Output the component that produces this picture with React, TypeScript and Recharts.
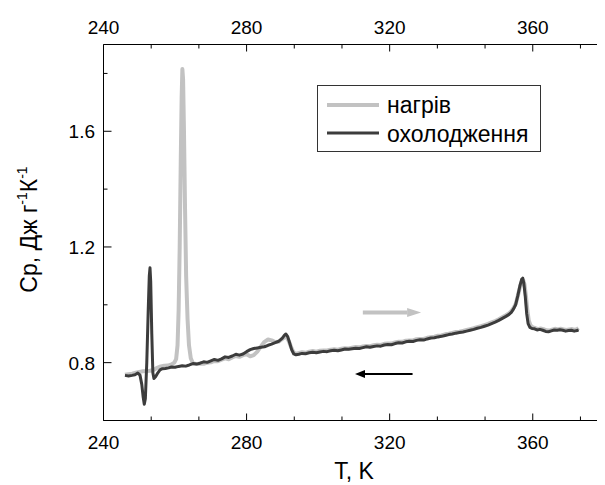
import React from 'react';
import { LineChart, Line, XAxis, YAxis, ReferenceLine, Legend } from 'recharts';

// Heat capacity, heating run (T in K, Cp in J g^-1 K^-1)
const heatingT = [
  246.0, 247.0, 248.0, 249.0, 250.0, 251.0, 252.0, 253.0, 254.0, 255.0, 256.0, 257.0, 258.0, 259.0,
  259.8, 260.3, 260.7, 261.0, 261.3, 261.6, 261.85, 262.05, 262.25, 262.5, 262.8, 263.1, 263.5, 263.9,
  264.4, 265.0, 266.0, 267.0, 268.0, 269.0, 270.0, 271.0, 272.0, 273.0, 274.0, 275.0, 276.0, 277.0,
  278.0, 279.0, 280.0, 281.0, 282.0, 283.0, 284.0, 285.0, 286.0, 287.0, 288.0, 289.0, 290.0, 290.7,
  291.2, 291.8, 292.4, 293.0, 293.6, 294.5, 295.5, 296.5, 297.5, 298.5, 299.5, 300.5, 301.5, 302.5,
  303.5, 304.5, 305.5, 306.5, 307.5, 308.5, 309.5, 310.5, 311.5, 312.5, 313.5, 314.5, 315.5, 316.5,
  317.5, 318.5, 319.5, 320.5, 321.5, 322.5, 323.5, 324.5, 325.5, 326.5, 327.5, 328.5, 329.5, 330.5,
  331.5, 332.5, 333.5, 334.5, 335.5, 336.5, 337.5, 338.5, 339.5, 340.5, 341.5, 342.5, 343.5, 344.5,
  345.5, 346.5, 347.5, 348.5, 349.5, 350.5, 351.5, 352.5, 353.3, 354.0, 354.7, 355.3, 355.9, 356.5,
  357.0, 357.35, 357.7, 358.1, 358.5, 358.9, 359.4, 360.0, 360.7, 361.4, 362.2, 363.0, 363.8, 364.6,
  365.4, 366.2, 367.0, 367.8, 368.6, 369.4, 370.2, 371.0, 371.8, 372.4, 372.8,
];
const heatingCp = [
  0.758, 0.76, 0.762, 0.765, 0.768, 0.77, 0.771, 0.772, 0.775, 0.782, 0.787, 0.789, 0.79, 0.794,
  0.8, 0.812, 0.86, 0.98, 1.2, 1.5, 1.72, 1.815, 1.78, 1.6, 1.33, 1.1, 0.95, 0.86,
  0.815, 0.798, 0.795, 0.797, 0.796, 0.8, 0.801, 0.806, 0.805, 0.81, 0.815, 0.812, 0.818, 0.823,
  0.82, 0.826, 0.829, 0.822, 0.826, 0.838, 0.856, 0.872, 0.88, 0.877, 0.871, 0.873, 0.882, 0.889,
  0.888, 0.875, 0.855, 0.838, 0.83, 0.833, 0.836, 0.834, 0.838, 0.84, 0.838, 0.841, 0.842, 0.842,
  0.845, 0.846, 0.845, 0.848, 0.85, 0.849, 0.852, 0.854, 0.853, 0.856, 0.858, 0.857, 0.86, 0.862,
  0.861, 0.865, 0.866, 0.866, 0.87, 0.872, 0.872, 0.876, 0.877, 0.877, 0.881, 0.882, 0.882, 0.886,
  0.888, 0.89, 0.893, 0.894, 0.898, 0.9, 0.903, 0.906, 0.907, 0.91, 0.913, 0.916, 0.919, 0.923,
  0.926, 0.93, 0.934, 0.939, 0.944, 0.95, 0.957, 0.964, 0.97, 0.978, 0.99, 1.005, 1.035, 1.065,
  1.083, 1.085, 1.07, 1.03, 0.98, 0.945, 0.928, 0.922, 0.92, 0.916, 0.918, 0.916, 0.912, 0.911,
  0.914, 0.917, 0.915, 0.917, 0.915, 0.913, 0.915, 0.916, 0.913, 0.916, 0.92,
];

// Heat capacity, cooling run
const coolingT = [
  246.0, 247.0, 248.0, 248.8, 249.6, 250.2, 250.7, 251.1, 251.4, 251.7, 252.1, 252.5, 252.8, 253.0,
  253.2, 253.5, 253.8, 254.1, 254.6, 255.2, 255.8, 256.5, 257.3, 258.2, 259.0, 260.0, 261.0, 262.0,
  263.0, 264.0, 265.0, 266.0, 267.0, 268.0, 269.0, 270.0, 271.0, 272.0, 273.0, 274.0, 275.0, 276.0,
  277.0, 278.0, 279.0, 280.0, 281.0, 282.0, 283.0, 284.0, 285.0, 286.0, 287.0, 288.0, 289.0, 290.0,
  290.6, 291.0, 291.5, 292.0, 292.6, 293.2, 293.8, 294.6, 295.5, 296.5, 297.5, 298.5, 299.5, 300.5,
  301.5, 302.5, 303.5, 304.5, 305.5, 306.5, 307.5, 308.5, 309.5, 310.5, 311.5, 312.5, 313.5, 314.5,
  315.5, 316.5, 317.5, 318.5, 319.5, 320.5, 321.5, 322.5, 323.5, 324.5, 325.5, 326.5, 327.5, 328.5,
  329.5, 330.5, 331.5, 332.5, 333.5, 334.5, 335.5, 336.5, 337.5, 338.5, 339.5, 340.5, 341.5, 342.5,
  343.5, 344.5, 345.5, 346.5, 347.5, 348.5, 349.5, 350.5, 351.5, 352.5, 353.3, 354.0, 354.6, 355.2,
  355.8, 356.4, 356.9, 357.2, 357.5, 357.9, 358.3, 358.7, 359.2, 359.8, 360.5, 361.2, 362.0, 362.8,
  363.6, 364.4, 365.2, 366.0, 366.8, 367.6, 368.4, 369.2, 370.0, 370.8, 371.6, 372.4, 372.8,
];
const coolingCp = [
  0.756, 0.754, 0.756, 0.758, 0.764, 0.757, 0.725, 0.68, 0.656, 0.675, 0.8, 0.98, 1.1, 1.128,
  1.08, 0.9, 0.765, 0.745, 0.752, 0.765, 0.775, 0.779, 0.78, 0.782, 0.785, 0.784, 0.787, 0.789,
  0.788, 0.792, 0.797, 0.795, 0.798, 0.803, 0.801, 0.806, 0.811, 0.808, 0.813, 0.82, 0.818, 0.823,
  0.829, 0.826, 0.83, 0.838, 0.845, 0.849, 0.851, 0.853, 0.855, 0.86, 0.864, 0.869, 0.874, 0.885,
  0.895, 0.899, 0.89, 0.87, 0.845, 0.83, 0.827, 0.829, 0.832, 0.831, 0.834, 0.836, 0.834, 0.837,
  0.839, 0.838, 0.841, 0.843, 0.841, 0.844, 0.847, 0.846, 0.848, 0.85, 0.849, 0.852, 0.855, 0.853,
  0.856, 0.858, 0.857, 0.861, 0.863, 0.862, 0.866, 0.869, 0.868, 0.872, 0.874, 0.873, 0.877, 0.879,
  0.878, 0.882, 0.885, 0.886, 0.889, 0.891, 0.894, 0.897, 0.899, 0.902, 0.904, 0.906, 0.909, 0.912,
  0.915, 0.919, 0.922, 0.926, 0.93, 0.935, 0.94, 0.946, 0.953, 0.96, 0.966, 0.974, 0.985, 1.0,
  1.03, 1.065, 1.088, 1.092, 1.075, 1.03, 0.97, 0.935, 0.922, 0.918, 0.917, 0.913, 0.915, 0.912,
  0.908, 0.907, 0.91, 0.913, 0.912, 0.914, 0.912, 0.909, 0.911, 0.912, 0.909, 0.911, 0.913,
];

// Axes
const xDomain = [240, 384];
const xTicks = [240, 253.333, 266.667, 280, 293.333, 306.667, 320, 333.333, 346.667, 360, 373.333];
const xLabeledTicks = [240, 280, 320, 360];
const yDomain = [0.6, 1.9];
const yTicks = [0.6, 0.8, 1.0, 1.2, 1.4, 1.6, 1.8];
const yLabeledTicks = [0.8, 1.2, 1.6];

// Direction arrows: heating (left→right) and cooling (right→left)
const heatingArrowT = [312.5, 328.8];
const heatingArrowCp = [0.973, 0.973];
const coolingArrowT = [326.4, 310.3];
const coolingArrowCp = [0.761, 0.761];

const seriesNames = ['нагрів', 'охолодження'];
const HEAT_COLOR = '#c2c2c2';
const COOL_COLOR = '#3c3c3c';
const FONT = "'Liberation Sans', Arial, sans-serif";

const heatingData = heatingT.map((t, i) => ({ t, cp: heatingCp[i] }));
const coolingData = coolingT.map((t, i) => ({ t, cp: coolingCp[i] }));

const isMajor = (list: number[], v: number) => list.some((m) => Math.abs(m - v) < 1e-6);

const BottomTick = (props: any) => {
  const { x, y, payload } = props;
  const major = isMajor(xLabeledTicks, payload.value);
  return (
    <g>
      <line x1={x} y1={y} x2={x} y2={y - (major ? 7 : 4)} stroke="#000" strokeWidth={1} />
      {major && (
        <text x={x} y={y + 28} textAnchor="middle" fontSize={19} fontFamily={FONT} fill="#000">
          {payload.value}
        </text>
      )}
    </g>
  );
};

const TopTick = (props: any) => {
  const { x, y, payload } = props;
  const major = isMajor(xLabeledTicks, payload.value);
  return (
    <g>
      <line x1={x} y1={y} x2={x} y2={y + (major ? 7 : 4)} stroke="#000" strokeWidth={1} />
      {major && (
        <text x={x} y={y - 11} textAnchor="middle" fontSize={19} fontFamily={FONT} fill="#000">
          {payload.value}
        </text>
      )}
    </g>
  );
};

const LeftTick = (props: any) => {
  const { x, y, payload } = props;
  const major = isMajor(yLabeledTicks, payload.value);
  return (
    <g>
      <line x1={x} y1={y} x2={x + (major ? 8 : 4)} y2={y} stroke="#000" strokeWidth={1} />
      {major && (
        <text x={x - 8.5} y={y + 7} textAnchor="end" fontSize={19} fontFamily={FONT} fill="#000">
          {payload.value.toFixed(1)}
        </text>
      )}
    </g>
  );
};

const XTitle = (props: any) => {
  const { viewBox } = props;
  return (
    <text x={viewBox.x + 250.5} y={viewBox.y + 58.5} textAnchor="middle" fontSize={23} fontFamily={FONT} fill="#000">
      T, K
    </text>
  );
};

const YTitle = (props: any) => {
  const { viewBox } = props;
  const cx = viewBox.x + 29;
  const cy = viewBox.y + viewBox.height / 2 - 3;
  return (
    <text transform={`translate(${cx}, ${cy}) rotate(-90)`} textAnchor="middle" fontSize={23} fontFamily={FONT} fill="#000">
      <tspan>Cp, Дж г</tspan>
      <tspan fontSize={14} dy={-10}>-1</tspan>
      <tspan dy={10}>К</tspan>
      <tspan fontSize={14} dy={-10}>-1</tspan>
    </text>
  );
};

const makeArrow = (color: string, width: number, headLen: number, headHalf: number) => (props: any) => {
  const { x1, y1, x2, y2 } = props;
  const dir = Math.sign(x2 - x1) || 1;
  return (
    <g>
      <line x1={x1} y1={y1} x2={x2 - dir * headLen} y2={y2} stroke={color} strokeWidth={width} />
      <polygon
        points={`${x2},${y2} ${x2 - dir * headLen},${y2 - headHalf} ${x2 - dir * headLen},${y2 + headHalf}`}
        fill={color}
      />
    </g>
  );
};

const HeatingArrow = makeArrow(HEAT_COLOR, 4, 14, 4.5);
const CoolingArrow = makeArrow('#000', 2, 10, 4);

const LegendBox = () => (
  <svg width={224} height={67} style={{ display: 'block' }}>
    <rect x={0.5} y={0.5} width={223} height={66} fill="#fff" stroke="#333" strokeWidth={1} />
    <line x1={10} y1={20} x2={62} y2={20} stroke={HEAT_COLOR} strokeWidth={4} />
    <text x={70} y={28} fontSize={23} fontFamily={FONT} fill="#000">{seriesNames[0]}</text>
    <line x1={10} y1={48} x2={62} y2={48} stroke={COOL_COLOR} strokeWidth={3} />
    <text x={70} y={56.5} fontSize={23} fontFamily={FONT} fill="#000">{seriesNames[1]}</text>
  </svg>
);

export default function App() {
  return (
    <div style={{ width: 597, height: 477, overflow: 'hidden', position: 'relative', background: '#fff' }}>
      <LineChart width={640} height={477} margin={{ top: 0, right: 29.4, bottom: 0, left: 0 }}>
        <XAxis
          xAxisId="bottom"
          type="number"
          dataKey="t"
          domain={xDomain}
          ticks={xTicks}
          interval={0}
          allowDataOverflow
          height={64.5}
          tickLine={false}
          tickSize={0}
          tickMargin={0}
          tick={<BottomTick />}
          axisLine={{ stroke: '#000', strokeWidth: 1 }}
          label={<XTitle />}
        />
        <XAxis
          xAxisId="top"
          orientation="top"
          type="number"
          dataKey="t"
          domain={xDomain}
          ticks={xTicks}
          interval={0}
          allowDataOverflow
          height={36.5}
          tickLine={false}
          tickSize={0}
          tickMargin={0}
          tick={<TopTick />}
          axisLine={{ stroke: '#000', strokeWidth: 1 }}
        />
        <YAxis
          type="number"
          domain={yDomain}
          ticks={yTicks}
          interval={0}
          allowDataOverflow
          width={95.5}
          tickLine={false}
          tickSize={0}
          tickMargin={0}
          tick={<LeftTick />}
          axisLine={{ stroke: '#000', strokeWidth: 1 }}
          label={<YTitle />}
        />
        <Legend
          layout="horizontal"
          verticalAlign="middle"
          align="center"
          wrapperStyle={{ position: 'absolute', left: 309, top: 77, width: 224, height: 67, margin: 0 }}
          content={() => <LegendBox />}
        />
        <Line
          xAxisId="bottom"
          data={heatingData}
          dataKey="cp"
          name={seriesNames[0]}
          type="linear"
          stroke={HEAT_COLOR}
          strokeWidth={4}
          strokeLinejoin="round"
          dot={false}
          activeDot={false}
          isAnimationActive={false}
        />
        <Line
          xAxisId="bottom"
          data={coolingData}
          dataKey="cp"
          name={seriesNames[1]}
          type="linear"
          stroke={COOL_COLOR}
          strokeWidth={3}
          strokeLinejoin="round"
          dot={false}
          activeDot={false}
          isAnimationActive={false}
        />
        <ReferenceLine
          xAxisId="bottom"
          segment={[
            { x: heatingArrowT[0], y: heatingArrowCp[0] },
            { x: heatingArrowT[1], y: heatingArrowCp[1] },
          ]}
          shape={HeatingArrow}
          ifOverflow="visible"
        />
        <ReferenceLine
          xAxisId="bottom"
          segment={[
            { x: coolingArrowT[0], y: coolingArrowCp[0] },
            { x: coolingArrowT[1], y: coolingArrowCp[1] },
          ]}
          shape={CoolingArrow}
          ifOverflow="visible"
        />
      </LineChart>
    </div>
  );
}
